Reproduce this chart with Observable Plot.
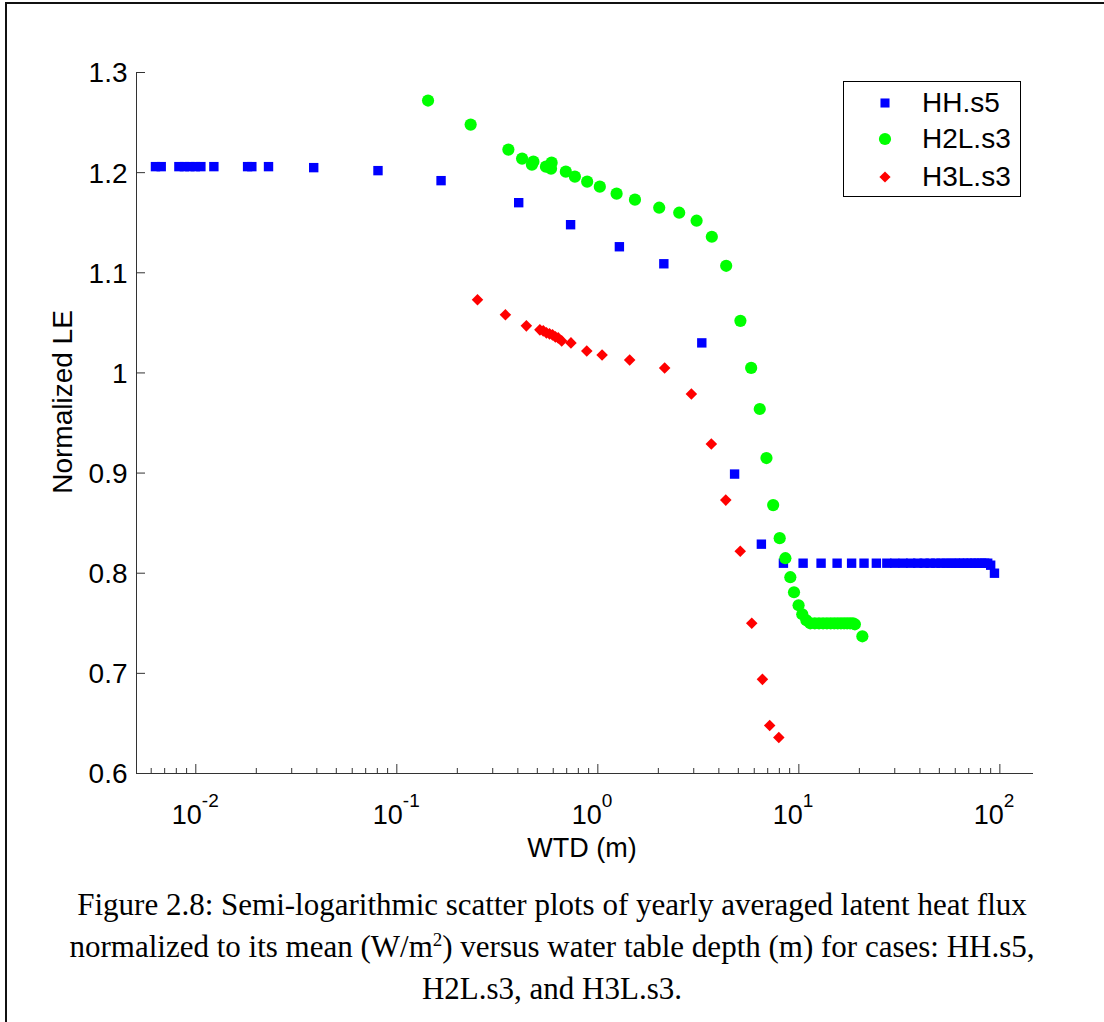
<!DOCTYPE html>
<html>
<head>
<meta charset="utf-8">
<script src="https://cdn.jsdelivr.net/npm/d3@7"></script>
<script src="https://cdn.jsdelivr.net/npm/@observablehq/plot@0.6"></script>
<style>
  body { margin: 0; background: #fff; }
  #page { position: relative; width: 1104px; height: 1022px; overflow: hidden; background: #fff; }
  #frameTop { position: absolute; left: 5px; top: 2px; width: 1099px; height: 2px; background: #111; }
  #frameLeft { position: absolute; left: 5px; top: 2px; width: 2px; height: 1020px; background: #111; }
  #chart { position: absolute; left: 0; top: 0; }
  #legend { position: absolute; left: 843px; top: 81px; width: 176px; height: 114px; border: 1px solid #000; background: #fff;
            font-family: "Liberation Sans", Arial, sans-serif; }
  #legend .row { position: absolute; left: 0; width: 176px; height: 30px; }
  #legend svg { position: absolute; left: 30px; top: 3px; }
  #legend span { position: absolute; left: 78px; top: 0; font-size: 28px; line-height: 30px; color: #000; }
  #caption { position: absolute; left: 0; top: 884px; width: 1104px; text-align: center;
             font-family: "Liberation Serif", "Times New Roman", serif; font-size: 31px; line-height: 42px; color: #000; }
  #caption sup { font-size: 19px; line-height: 0; }
</style>
</head>
<body>
<div id="page">
  <div id="chart"></div>
  <div id="legend"></div>
  <div id="caption">Figure 2.8: Semi-logarithmic scatter plots of yearly averaged latent heat flux<br>normalized to its mean (W/m<sup>2</sup>) versus water table depth (m) for cases: HH.s5,<br>H2L.s3, and H3L.s3.</div>
  <div id="frameTop"></div>
  <div id="frameLeft"></div>
</div>
<script>
// ---------------- data ----------------
const seriesNames = ["HH.s5", "H2L.s3", "H3L.s3"];
const seriesColors = ["#0000ff", "#00ff00", "#ff0000"];

const hhX = [0.0063, 0.00673, 0.00824, 0.00877, 0.00934, 0.00994, 0.0106, 0.0123, 0.0181, 0.019, 0.023,
  0.0386, 0.0806, 0.166, 0.404, 0.732, 1.28, 2.13, 3.29, 4.79, 6.51, 8.38,
  10.5, 12.9, 15.5, 18.3, 21.1, 24.3, 27.4, 30, 33, 36, 39, 42, 45, 48, 51, 54, 57, 60, 63, 66, 69,
  72, 75, 78, 81, 84, 87, 90, 94];
const hhY = [1.206, 1.206, 1.206, 1.206, 1.206, 1.206, 1.206, 1.206, 1.206, 1.206, 1.206,
  1.205, 1.202, 1.192, 1.170, 1.148, 1.126, 1.109, 1.030, 0.899, 0.829, 0.810,
  0.810, 0.810, 0.810, 0.810, 0.810, 0.810, 0.810, 0.810, 0.810, 0.810, 0.810, 0.810, 0.810, 0.810, 0.810, 0.810, 0.810, 0.810, 0.810, 0.810, 0.810,
  0.810, 0.810, 0.810, 0.810, 0.810, 0.810, 0.808, 0.800];

const h2lX = [0.143, 0.233, 0.359, 0.42, 0.478, 0.47, 0.552, 0.589, 0.585, 0.693, 0.769, 0.885, 1.023,
  1.24, 1.53, 2.02, 2.54, 3.10, 3.69, 4.35, 5.12, 5.79, 6.39, 6.90, 7.45, 8.03, 8.57, 9.07, 9.46,
  9.97, 10.4, 10.9, 11.4, 12.0, 12.6, 13.2, 13.8, 14.4, 15.0, 15.6, 16.2, 16.8, 17.4, 18.0, 18.6, 19.0, 20.7];
const h2lY = [1.272, 1.248, 1.223, 1.214, 1.211, 1.208, 1.206, 1.210, 1.204, 1.201, 1.196, 1.191, 1.186,
  1.179, 1.173, 1.165, 1.160, 1.152, 1.136, 1.107, 1.052, 1.005, 0.964, 0.915, 0.868, 0.835, 0.815, 0.796, 0.781,
  0.768, 0.759, 0.753, 0.750, 0.750, 0.750, 0.750, 0.750, 0.750, 0.750, 0.750, 0.750, 0.750, 0.750, 0.750, 0.750, 0.749, 0.737];

const h3lX = [0.252, 0.347, 0.441, 0.515, 0.535, 0.555, 0.575, 0.595, 0.615, 0.635, 0.661, 0.735, 0.881,
  1.05, 1.44, 2.15, 2.92, 3.67, 4.33, 5.11, 5.83, 6.59, 7.16, 7.95];
const h3lY = [1.073, 1.058, 1.047, 1.043, 1.042, 1.040, 1.039, 1.038, 1.036, 1.035, 1.032, 1.030, 1.022,
  1.018, 1.013, 1.005, 0.979, 0.929, 0.873, 0.822, 0.750, 0.694, 0.648, 0.636];

const xDomain = [0.00507, 147];
const yDomain = [0.6, 1.3];
const yTicks = [0.6, 0.7, 0.8, 0.9, 1.0, 1.1, 1.2, 1.3];
const yTickLabels = ["0.6", "0.7", "0.8", "0.9", "1", "1.1", "1.2", "1.3"];
const xMajor = [0.01, 0.1, 1, 10, 100];
const xExponents = ["-2", "-1", "0", "1", "2"];
const xMinor = [0.006, 0.007, 0.008, 0.009, 0.02, 0.03, 0.04, 0.05, 0.06, 0.07, 0.08, 0.09,
  0.2, 0.3, 0.4, 0.5, 0.6, 0.7, 0.8, 0.9, 2, 3, 4, 5, 6, 7, 8, 9, 20, 30, 40, 50, 60, 70, 80, 90];
const xLabel = "WTD (m)";
const yLabel = "Normalized LE";

// ---------------- build ----------------
const hh = hhX.map((x, i) => ({x, y: hhY[i]}));
const h2l = h2lX.map((x, i) => ({x, y: h2lY[i]}));
const h3l = h3lX.map((x, i) => ({x, y: h3lY[i]}));

const W = 1104, H = 870, mL = 136, mR = 71, mT = 72, mB = H - 773;
const pw = W - mL - mR, ph = H - mT - mB;
const axisColor = "#333";
const tickFont = 28;
const xTickFont = 27;
const xLabelFont = 27;
const expFont = 19;

const chart = Plot.plot({
  width: W, height: H,
  marginLeft: mL, marginRight: mR, marginTop: mT, marginBottom: mB,
  style: {fontFamily: "'Liberation Sans', Arial, sans-serif", background: "transparent", color: "#000"},
  x: {type: "log", domain: xDomain, axis: null},
  y: {domain: yDomain, axis: null},
  marks: [
    Plot.ruleX([xDomain[0]], {stroke: axisColor, strokeWidth: 1}),
    Plot.ruleY([yDomain[0]], {stroke: axisColor, strokeWidth: 1}),
    Plot.tickY(yTicks, {y: d => d, insetRight: pw - 9, stroke: axisColor}),
    Plot.tickX(xMajor, {x: d => d, insetTop: ph - 9, stroke: axisColor}),
    Plot.tickX(xMinor, {x: d => d, insetTop: ph - 5, stroke: axisColor}),
    Plot.text(yTicks, {y: d => d, frameAnchor: "left", text: (d, i) => yTickLabels[i], textAnchor: "end", dx: -9, dy: 1, fontSize: tickFont, fill: "#000"}),
    Plot.text(xMajor, {x: d => d, frameAnchor: "bottom", text: () => "10", textAnchor: "end",
      filter: (d, i) => xExponents[i].length > 1, dx: 6, dy: 50, fontSize: xTickFont, fill: "#000"}),
    Plot.text(xMajor, {x: d => d, frameAnchor: "bottom", text: (d, i) => xExponents[i], textAnchor: "start",
      filter: (d, i) => xExponents[i].length > 1, dx: 6, dy: 33, fontSize: expFont, fill: "#000"}),
    Plot.text(xMajor, {x: d => d, frameAnchor: "bottom", text: () => "10", textAnchor: "end",
      filter: (d, i) => xExponents[i].length === 1, dx: 4, dy: 50, fontSize: xTickFont, fill: "#000"}),
    Plot.text(xMajor, {x: d => d, frameAnchor: "bottom", text: (d, i) => xExponents[i], textAnchor: "start",
      filter: (d, i) => xExponents[i].length === 1, dx: 4, dy: 33, fontSize: expFont, fill: "#000"}),
    Plot.text([xLabel], {frameAnchor: "bottom", text: d => d, textAnchor: "middle", dx: -3, dy: 83, fontSize: xLabelFont, fill: "#000"}),
    Plot.text([yLabel], {frameAnchor: "left", text: d => d, textAnchor: "middle", rotate: -90, dx: -73, dy: -21, fontSize: tickFont, fill: "#000"}),
    Plot.dot(hh, {x: "x", y: "y", symbol: "square", r: 5.3, fill: seriesColors[0], stroke: "none"}),
    Plot.dot(h2l, {x: "x", y: "y", symbol: "circle", r: 6.1, fill: seriesColors[1], stroke: "none"}),
    Plot.dot(h3l, {x: "x", y: "y", symbol: "diamond2", r: 5.2, fill: seriesColors[2], stroke: "none"})
  ]
});
document.getElementById("chart").appendChild(chart);

// legend
const legend = d3.select("#legend");
const symbolTypes = [d3.symbolSquare, d3.symbolCircle, d3.symbolDiamond2];
const symbolSizes = [82, 117, 80];
const rowTops = [6, 42, 80];
seriesNames.forEach((name, i) => {
  const row = legend.append("div").attr("class", "row").style("top", rowTops[i] + "px");
  const svg = row.append("svg").attr("width", 22).attr("height", 24);
  svg.append("path").attr("transform", "translate(11,12)")
    .attr("d", d3.symbol(symbolTypes[i], symbolSizes[i])())
    .attr("fill", seriesColors[i]);
  row.append("span").text(name);
});
</script>
</body>
</html>
